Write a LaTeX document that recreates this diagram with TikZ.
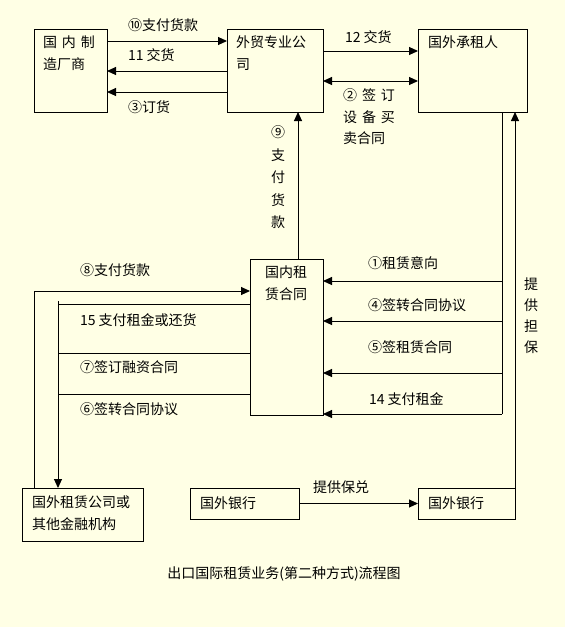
\documentclass[tikz,border=0pt]{standalone}
\usepackage{fontspec}
\usepackage{xcolor}
\usepackage{tikz}
\usetikzlibrary{arrows.meta, calc}
\newfontfamily\cjk{Noto Sans CJK SC}
\definecolor{paleyellow}{HTML}{FFFFE5}
\definecolor{flowink}{HTML}{000000}

\begin{document}
\begin{tikzpicture}[
        x=1pt, y=-1pt,
        every node/.style={font=\cjk\fontsize{14}{21.5}\selectfont, text=flowink, inner sep=0pt, outer sep=0pt},
        party/.style={draw=flowink, line width=1pt, anchor=north west},
        boxtext/.style={anchor=north west, align=left},
        flowtext/.style={anchor=west},
        upright/.style={anchor=north, align=center},
        line/.style={line width=1pt, draw=flowink},
        arr/.style={line, -{Triangle[length=9pt, width=8pt]}},
        dblarr/.style={line, {Triangle[length=9pt, width=8pt]}-{Triangle[length=9pt, width=8pt]}}
    ]
        \fill[paleyellow] (0,0) rectangle (565,627);

        \node[party, minimum width=73pt, minimum height=83pt] (maker) at (34,29) {};
        \node[party, minimum width=96pt, minimum height=83pt] (trade) at (227,29) {};
        \node[party, minimum width=109pt, minimum height=83pt] (lessee) at (418,29) {};
        \node[party, minimum width=73pt, minimum height=156pt] (contract) at (250,259) {};
        \node[party, minimum width=121pt, minimum height=53pt] (finance) at (22,488) {};
        \node[party, minimum width=109pt, minimum height=31pt] (bankl) at (190,488) {};
        \node[party, minimum width=97pt, minimum height=31pt] (bankr) at (418,488) {};

        \node[boxtext] (makertext) at ([xshift=9pt, yshift=-7pt]maker.north west) {国\hspace{5pt}内\hspace{5pt}制\\造厂商};
        \node[boxtext] (tradetext) at ([xshift=9pt, yshift=-7pt]trade.north west) {外贸专业公\\司};
        \node[boxtext] (lesseetext) at ([xshift=10pt, yshift=-7pt]lessee.north west) {国外承租人};
        \node[boxtext] (contracttext) at ([xshift=15pt, yshift=-7pt]contract.north west) {国内租\\赁合同};
        \node[boxtext] (financetext) at ([xshift=10pt, yshift=-8pt]finance.north west) {国外租赁公司或\\其他金融机构};
        \node[flowtext] (bankltext) at ([xshift=10pt]bankl.west) {国外银行};
        \node[flowtext] (bankrtext) at ([xshift=10pt]bankr.west) {国外银行};

        \draw[arr] ([yshift=-12pt]maker.north east) -- ([yshift=-12pt]trade.north west);
        \draw[arr] ([yshift=-42pt]trade.north west) -- ([yshift=-42pt]maker.north east);
        \draw[arr] ([yshift=-63pt]trade.north west) -- ([yshift=-63pt]maker.north east);
        \draw[arr] ([yshift=-22pt]trade.north east) -- ([yshift=-22pt]lessee.north west);
        \draw[dblarr] ([yshift=-52pt]trade.north east) -- ([yshift=-52pt]lessee.north west);
        \draw[arr] ([xshift=48pt]contract.north west) -- ([xshift=71pt]trade.south west);

        \node[flowtext] (pay10) at (128,25) {⑩支付货款};
        \node[flowtext] (deliver11) at (128,55) {11 交货};
        \node[flowtext] (order3) at (128,107) {③订货};
        \node[flowtext] (deliver12) at (345,37) {12 交货};
        \node[boxtext] (sign2) at (343,89) {②\hspace{5pt}签\hspace{5pt}订\\设\hspace{5pt}备\hspace{5pt}买\\卖合同};
        \node[upright, font=\cjk\fontsize{14}{22.5}\selectfont] (pay9) at (278,126) {⑨\\支\\付\\货\\款};

        \coordinate (rbus) at ([xshift=84pt]lessee.south west);
        \foreach \n/\dy in {r1/22, r4/62, r5/114, r14/155} {
            \coordinate (\n) at ([yshift=-\dy pt]contract.north east);
            \draw[arr] (\n -| rbus) -- (\n);
        }
        \draw[line] (rbus) -- (r14 -| rbus);

        \node[flowtext] (intent1) at (368,263) {①租赁意向};
        \node[flowtext] (transfer4) at (368,305) {④签转合同协议};
        \node[flowtext] (lease5) at (368,347) {⑤签租赁合同};
        \node[flowtext] (rent14) at (369,399) {14 支付租金};

        \coordinate (l8) at ([yshift=-32pt]contract.north west);
        \coordinate (lbus) at ([xshift=36pt]finance.north west);
        \draw[arr] ([xshift=12pt]finance.north west) |- (l8);
        \foreach \n/\dy in {l15/45, l7/94, l6/135} {
            \coordinate (\n) at ([yshift=-\dy pt]contract.north west);
            \draw[line] (\n) -- (\n -| lbus);
        }
        \draw[arr] ($(lbus |- l15)+(0,-3)$) -- (lbus);

        \node[flowtext] (pay8) at (80,270) {⑧支付货款};
        \node[flowtext] (repay15) at (80,320) {15 支付租金或还货};
        \node[flowtext] (finance7) at (80,367) {⑦签订融资合同};
        \node[flowtext] (transfer6) at (80,409) {⑥签转合同协议};

        \draw[arr] (bankr.north east) -- (bankr.north east |- lessee.south);
        \node[upright, font=\cjk\fontsize{14}{21}\selectfont] (guarantee) at (531,278) {提\\供\\担\\保};
        \draw[arr] (bankl.east) -- (bankr.west);
        \node[flowtext] (confirm) at (313,487) {提供保兑};

        \node (title) at (284,574) {出口国际租赁业务(第二种方式)流程图};
    \end{tikzpicture}
\end{document}
